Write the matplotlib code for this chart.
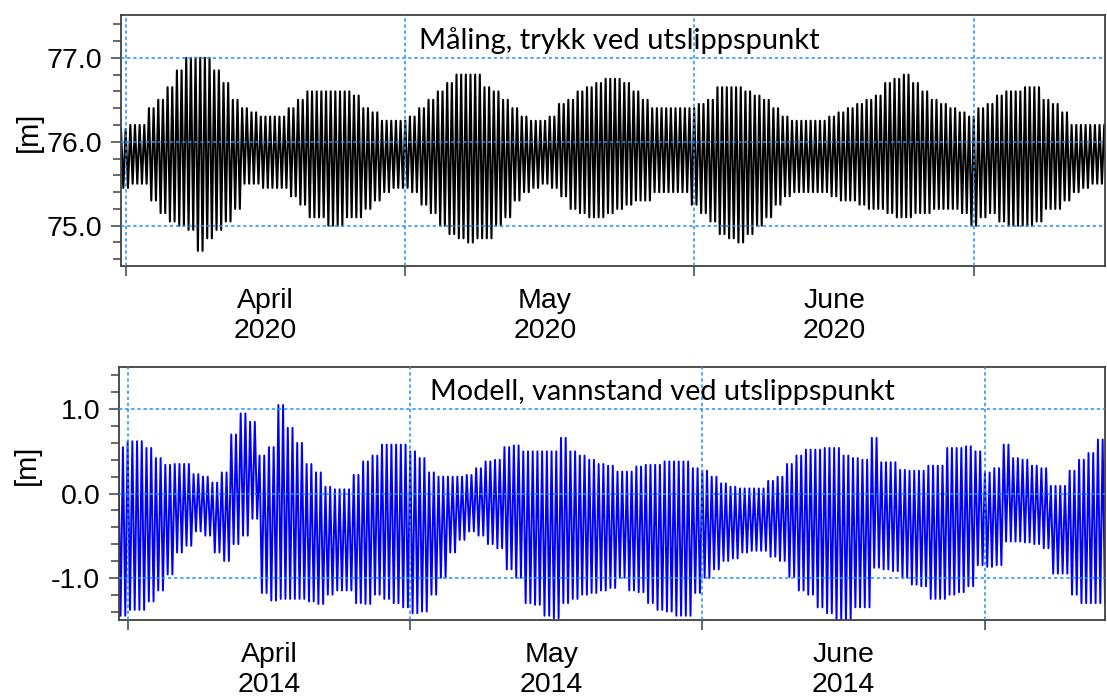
import matplotlib
matplotlib.use("Agg")
import matplotlib.pyplot as plt
import matplotlib.dates as mdates
from matplotlib.ticker import MultipleLocator, FormatStrFormatter, NullFormatter
import pandas as pd

plt.rcParams['font.family'] = ['Liberation Sans', 'DejaVu Sans']
plt.rcParams['axes.unicode_minus'] = False

# Measured pressure level at the outlet, 2020: daily high / low water [m]
meas_start = "2020-03-31 12:00"
meas_high = [
    76.15, 76.20, 76.20, 76.40, 76.50, 76.65, 76.85, 77.00, 77.00, 77.00,
    76.85, 76.70, 76.50, 76.40, 76.35, 76.30, 76.30, 76.30, 76.40, 76.50,
    76.60, 76.60, 76.60, 76.60, 76.60, 76.55, 76.40, 76.35, 76.25, 76.25,
    76.25, 76.30, 76.40, 76.50, 76.60, 76.70, 76.80, 76.80, 76.80, 76.65,
    76.60, 76.50, 76.40, 76.30, 76.25, 76.25, 76.30, 76.45, 76.50, 76.60,
    76.65, 76.70, 76.75, 76.75, 76.70, 76.60, 76.50, 76.40, 76.40, 76.40,
    76.40, 76.40, 76.45, 76.50, 76.65, 76.65, 76.65, 76.60, 76.55, 76.50,
    76.40, 76.30, 76.25, 76.25, 76.25, 76.25, 76.30, 76.35, 76.40, 76.45,
    76.50, 76.55, 76.70, 76.75, 76.80, 76.70, 76.60, 76.50, 76.45, 76.40,
    76.35, 76.30, 76.40, 76.45, 76.55, 76.60, 76.60, 76.65, 76.65, 76.50,
    76.45, 76.35, 76.20, 76.20, 76.20, 76.20,
]
meas_low = [
    75.45, 75.50, 75.50, 75.30, 75.15, 75.05, 75.00, 74.95, 74.70, 74.85,
    74.95, 75.05, 75.20, 75.50, 75.50, 75.45, 75.45, 75.45, 75.35, 75.25,
    75.10, 75.10, 75.00, 75.00, 75.10, 75.10, 75.20, 75.30, 75.40, 75.45,
    75.45, 75.40, 75.25, 75.15, 75.00, 74.90, 74.85, 74.80, 74.85, 74.85,
    75.00, 75.10, 75.30, 75.40, 75.45, 75.50, 75.45, 75.35, 75.20, 75.15,
    75.10, 75.10, 75.15, 75.20, 75.25, 75.30, 75.30, 75.40, 75.40, 75.40,
    75.40, 75.25, 75.15, 75.05, 74.90, 74.85, 74.80, 74.90, 75.00, 75.10,
    75.25, 75.35, 75.40, 75.40, 75.40, 75.40, 75.35, 75.30, 75.30, 75.25,
    75.20, 75.20, 75.15, 75.10, 75.10, 75.15, 75.15, 75.20, 75.20, 75.20,
    75.15, 75.00, 75.10, 75.15, 75.05, 75.00, 75.00, 75.00, 75.05, 75.20,
    75.20, 75.30, 75.40, 75.45, 75.50, 75.50,
]

# Modelled water level at the outlet, 2014: daily high / low water [m]
model_start = "2014-03-31 00:00"
model_high = [
    0.55, 0.62, 0.62, 0.54, 0.42, 0.34, 0.35, 0.35, 0.23, 0.20,
    0.13, 0.25, 0.70, 0.95, 0.85, 0.45, 0.55, 1.05, 0.78, 0.60,
    0.35, 0.25, 0.08, 0.05, 0.05, 0.22, 0.38, 0.45, 0.58, 0.58,
    0.58, 0.50, 0.42, 0.25, 0.20, 0.20, 0.20, 0.22, 0.30, 0.38,
    0.40, 0.55, 0.57, 0.50, 0.50, 0.50, 0.50, 0.66, 0.50, 0.45,
    0.40, 0.35, 0.33, 0.26, 0.26, 0.32, 0.34, 0.34, 0.38, 0.38,
    0.38, 0.30, 0.27, 0.20, 0.12, 0.08, 0.06, 0.06, 0.06, 0.15,
    0.20, 0.35, 0.45, 0.52, 0.52, 0.54, 0.54, 0.45, 0.42, 0.40,
    0.66, 0.37, 0.37, 0.28, 0.27, 0.27, 0.33, 0.33, 0.54, 0.54,
    0.56, 0.50, 0.25, 0.30, 0.58, 0.42, 0.40, 0.33, 0.30, 0.09,
    0.09, 0.27, 0.40, 0.48, 0.64, 0.62,
]
model_low = [
    -1.45, -1.38, -1.38, -1.28, -1.15, -0.96, -0.70, -0.62, -0.45, -0.50,
    -0.70, -0.80, -0.60, -0.50, -0.30, -1.18, -1.27, -1.25, -1.25, -1.25,
    -1.28, -1.31, -1.20, -1.15, -1.15, -1.30, -1.31, -1.20, -1.25, -1.30,
    -1.35, -1.42, -1.40, -1.20, -1.00, -0.70, -0.55, -0.45, -0.50, -0.60,
    -0.65, -0.90, -1.00, -1.30, -1.32, -1.45, -1.48, -1.30, -1.25, -1.20,
    -1.18, -1.15, -1.12, -1.00, -1.15, -1.17, -1.30, -1.38, -1.40, -1.45,
    -1.45, -1.18, -1.00, -0.90, -0.80, -0.77, -0.70, -0.68, -0.68, -0.75,
    -0.80, -0.99, -1.15, -1.20, -1.35, -1.42, -1.50, -1.50, -1.35, -1.35,
    -0.88, -0.90, -0.92, -1.00, -1.08, -1.10, -1.25, -1.25, -1.20, -1.17,
    -1.10, -0.85, -0.87, -0.85, -0.57, -0.57, -0.58, -0.60, -0.65, -0.95,
    -0.95, -1.20, -1.30, -1.30, -1.30, -1.30,
]

GRID_BLUE = '#1e90ff'
FRAME = '#404040'


def tide_series(start, high, low):
    """Two semidiurnal cycles per day: high, low, high, low."""
    days = pd.date_range(start, periods=len(high), freq='D')
    times, levels = [], []
    for day, hi, lo in zip(days, high, low):
        for k, v in enumerate((hi, lo, hi, lo)):
            times.append(day + pd.Timedelta(hours=6 * k))
            levels.append(v)
    return times, levels


def style_axes(ax, xlim, ylim, label_y):
    ax.set_xlim(pd.Timestamp(xlim[0]), pd.Timestamp(xlim[1]))
    ax.set_ylim(*ylim)

    # month starts carry the ticks, the month names sit mid-month
    ax.xaxis.set_major_locator(mdates.MonthLocator())
    ax.xaxis.set_major_formatter(NullFormatter())
    ax.xaxis.set_minor_locator(mdates.MonthLocator(bymonthday=16))
    ax.xaxis.set_minor_formatter(mdates.DateFormatter('%B\n%Y'))
    ax.tick_params(axis='x', which='major', direction='out', length=7,
                   width=1.1, color=FRAME)
    ax.tick_params(axis='x', which='minor', length=0, pad=16,
                   labelsize=20.5)

    ax.yaxis.set_major_locator(MultipleLocator(1.0))
    ax.yaxis.set_minor_locator(MultipleLocator(0.2))
    ax.yaxis.set_major_formatter(FormatStrFormatter('%.1f'))
    ax.tick_params(axis='y', which='both', direction='out', width=1.1,
                   color=FRAME, labelsize=20.5, pad=6)
    ax.tick_params(axis='y', which='major', length=7.5)
    ax.tick_params(axis='y', which='minor', length=6)

    for sp in ax.spines.values():
        sp.set_color(FRAME)
        sp.set_linewidth(1.3)

    ax.set_axisbelow(False)
    ax.grid(which='major', color=GRID_BLUE, linestyle=(0, (2.2, 1.8)),
            linewidth=1.1)

    ax.set_ylabel('[m]', fontsize=21)
    ax.yaxis.set_label_coords(-0.079, label_y)


fig = plt.figure(figsize=(11.07, 7.0), dpi=100)

# upper panel: measurement
ax1 = fig.add_axes([0.1093, 0.62, 0.8889, 0.3586])
t, v = tide_series(meas_start, meas_high, meas_low)
ax1.plot(t, v, color='black', linewidth=1.5, zorder=2)
style_axes(ax1, ("2020-03-31 12:00", "2020-07-15 02:00"), (74.52, 77.51),
           0.534)
ax1.text(0.506, 0.863, 'Måling, trykk ved utslippspunkt',
         transform=ax1.transAxes, ha='center', va='baseline',
         fontsize=21, family=['Lato', 'DejaVu Sans'], color='black')

# lower panel: model
ax2 = fig.add_axes([0.1075, 0.1143, 0.8907, 0.3614])
t, v = tide_series(model_start, model_high, model_low)
ax2.plot(t, v, color='#0000ff', linewidth=1.4, zorder=2)
style_axes(ax2, ("2014-03-31 02:00", "2014-07-13 18:00"), (-1.5, 1.5),
           0.613)
ax2.text(0.551, 0.868, 'Modell, vannstand ved utslippspunkt',
         transform=ax2.transAxes, ha='center', va='baseline',
         fontsize=20.8, family=['Lato', 'DejaVu Sans'], color='black')

fig.savefig('out.png', dpi=100)
plt.close(fig)
